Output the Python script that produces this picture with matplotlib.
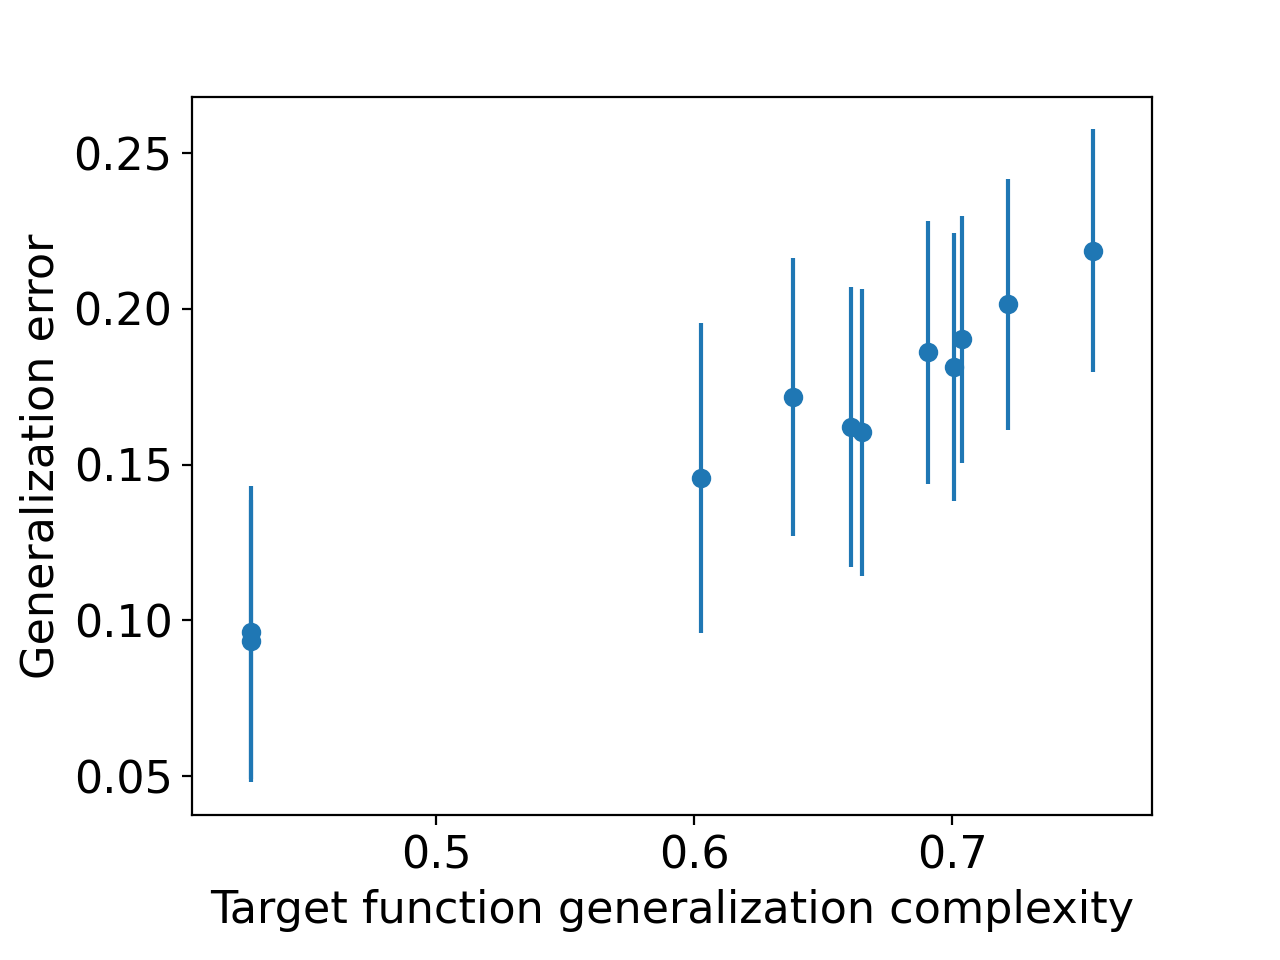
import matplotlib
matplotlib.use("Agg")
import matplotlib.pyplot as plt

complexity = [0.4283, 0.4283, 0.6027, 0.6384, 0.6609, 0.6651, 0.6907, 0.7008, 0.7039, 0.7217, 0.7547]
gen_error = [0.0961, 0.0933, 0.1456, 0.1716, 0.1620, 0.1604, 0.1860, 0.1812, 0.1902, 0.2014, 0.2187]
err = [0.0469, 0.0453, 0.0497, 0.0446, 0.0450, 0.0461, 0.0422, 0.0430, 0.0396, 0.0404, 0.0389]

plt.rcParams['font.size'] = 16
fig, ax = plt.subplots(figsize=(6.4, 4.8), dpi=200)
fig.subplots_adjust(left=0.15, right=0.9, bottom=0.151, top=0.899)
ax.errorbar(complexity, gen_error, yerr=err, fmt='o', color='#1f77b4')
ax.set_xlim(0.4054, 0.7775)
ax.set_ylim(0.0375, 0.268)
ax.set_xticks([0.5, 0.6, 0.7])
ax.set_yticks([0.05, 0.10, 0.15, 0.20, 0.25])
ax.set_xlabel('Target function generalization complexity')
ax.set_ylabel('Generalization error')
fig.savefig('out.png')
